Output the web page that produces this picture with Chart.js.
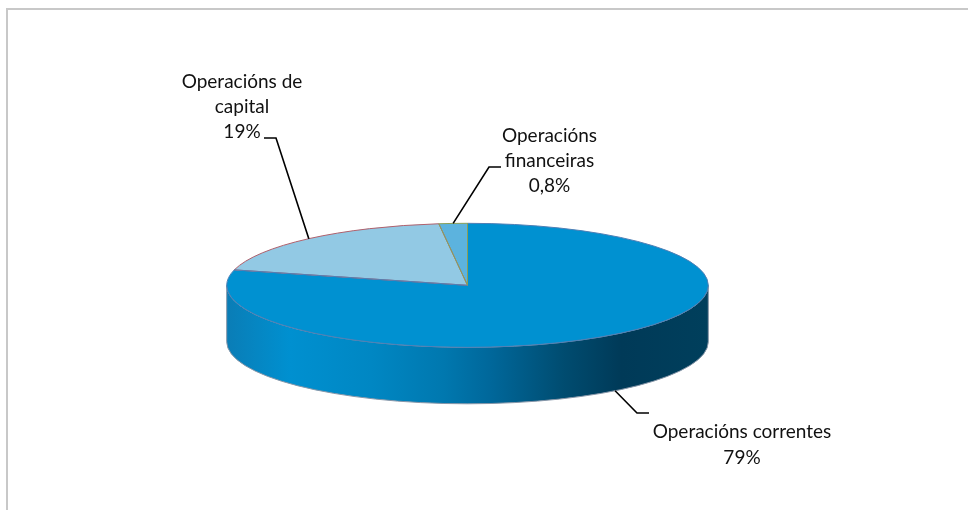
<!DOCTYPE html>
<html lang="gl">
<head>
  <meta charset="UTF-8" />
  <title>Operacións</title>
  <style>
    body { margin: 0; background: white; }
    #frame {
      position: absolute;
      left: 6px;
      top: 8px;
      width: 962px;
      height: 502px;
      border-top: 2px solid #c8c8c8;
      border-left: 2px solid #c8c8c8;
      box-sizing: border-box;
    }
    #pie { position: absolute; left: 0; top: 0; }
  </style>
</head>
<body>
  <div id="frame"></div>
  <canvas id="pie" width="968" height="510"></canvas>

  <script src="https://cdn.jsdelivr.net/npm/chart.js"></script>
  <script>
    // slice sizes as drawn in the picture (the small one is drawn bigger than its 0,8% label)
    const categories = ['Operacións correntes', 'Operacións de capital', 'Operacións financeiras'];
    const values = [79, 19.1, 1.9];
    const labelLines = [
      ['Operacións correntes', '79%'],
      ['Operacións de', 'capital', '19%'],
      ['Operacións', 'financeiras', '0,8%']
    ];
    const sliceColors = ['#0091d1', '#92c9e4', '#5cb3de'];
    const edgeColors = ['#4f7fb5', '#b0606c', '#8a9f58'];

    const squash = 62 / 240.8;
    const depth = 56.5;
    const centerY = 285.3;

    // label text centre + first baseline, and leader elbow / end
    const labelLayout = [
      { x: 742, y: 438, lineH: 26, elbow: [637, 413], end: [649, 413], fromWall: true },
      { x: 242, y: 88, lineH: 25, elbow: [276, 138], end: [264, 138] },
      { x: 549.5, y: 142, lineH: 25, elbow: [489, 167], end: [501, 167] }
    ];

    function edgePoint(arc, angle) {
      return [arc.x + arc.outerRadius * Math.cos(angle), centerY + arc.outerRadius * squash * Math.sin(angle)];
    }

    const pie3d = {
      id: 'pie3d',
      beforeDatasetsDraw(chart) {
        const ctx = chart.ctx;
        const arc = chart.getDatasetMeta(0).data[0];
        const rx = arc.outerRadius, ry = rx * squash, cx = arc.x;

        // side wall
        const grad = ctx.createLinearGradient(cx - rx, 0, cx + rx, 0);
        grad.addColorStop(0, '#0a7db6');
        grad.addColorStop(0.13, '#0090d0');
        grad.addColorStop(0.3, '#0087c3');
        grad.addColorStop(0.45, '#0078af');
        grad.addColorStop(0.55, '#00679a');
        grad.addColorStop(0.7, '#004c70');
        grad.addColorStop(0.82, '#003a58');
        grad.addColorStop(1, '#003f5c');
        ctx.save();
        ctx.beginPath();
        ctx.ellipse(cx, centerY + depth, rx, ry, 0, 0, Math.PI);
        ctx.lineTo(cx - rx, centerY);
        ctx.ellipse(cx, centerY, rx, ry, 0, Math.PI, 0, true);
        ctx.closePath();
        ctx.fillStyle = grad;
        ctx.fill();
        ctx.strokeStyle = '#8796a8';
        ctx.lineWidth = 1;
        ctx.stroke();
        ctx.restore();

        // squash the flat pie into the top face
        ctx.save();
        ctx.translate(cx, centerY);
        ctx.scale(1, squash);
        ctx.translate(-cx, -arc.y);
      },
      afterDatasetsDraw(chart) {
        const ctx = chart.ctx;
        ctx.restore();
        const arcs = chart.getDatasetMeta(0).data;

        // slice outlines, drawn afterwards so the line width is not squashed
        [1, 0, 2].forEach(i => {
          const a = arcs[i];
          const rx = a.outerRadius;
          const s = edgePoint(a, a.startAngle);
          ctx.beginPath();
          ctx.moveTo(a.x, centerY);
          ctx.lineTo(s[0], s[1]);
          ctx.ellipse(a.x, centerY, rx, rx * squash, 0, a.startAngle, a.endAngle);
          ctx.closePath();
          ctx.strokeStyle = edgeColors[i];
          ctx.lineWidth = 1;
          ctx.stroke();
        });

        // leaders and labels
        ctx.font = '19px Lato';
        ctx.textAlign = 'center';
        ctx.textBaseline = 'alphabetic';
        arcs.forEach((a, i) => {
          const l = labelLayout[i];
          const p = edgePoint(a, (a.startAngle + a.endAngle) / 2);
          ctx.beginPath();
          ctx.moveTo(p[0], p[1] + (l.fromWall ? depth : 0));
          ctx.lineTo(l.elbow[0], l.elbow[1]);
          ctx.lineTo(l.end[0], l.end[1]);
          ctx.strokeStyle = 'black';
          ctx.lineWidth = 1.6;
          ctx.stroke();
          ctx.fillStyle = '#111';
          labelLines[i].forEach((t, n) => ctx.fillText(t, l.x, l.y + n * l.lineH));
        });
      }
    };

    new Chart(document.getElementById('pie'), {
      type: 'pie',
      data: {
        labels: categories,
        datasets: [{
          data: values,
          backgroundColor: sliceColors,
          borderWidth: 0,
          radius: 240.8
        }]
      },
      options: {
        responsive: false,
        animation: false,
        layout: { padding: { right: 33 } },
        plugins: { legend: { display: false }, tooltip: { enabled: false } }
      },
      plugins: [pie3d]
    });
  </script>
</body>
</html>
